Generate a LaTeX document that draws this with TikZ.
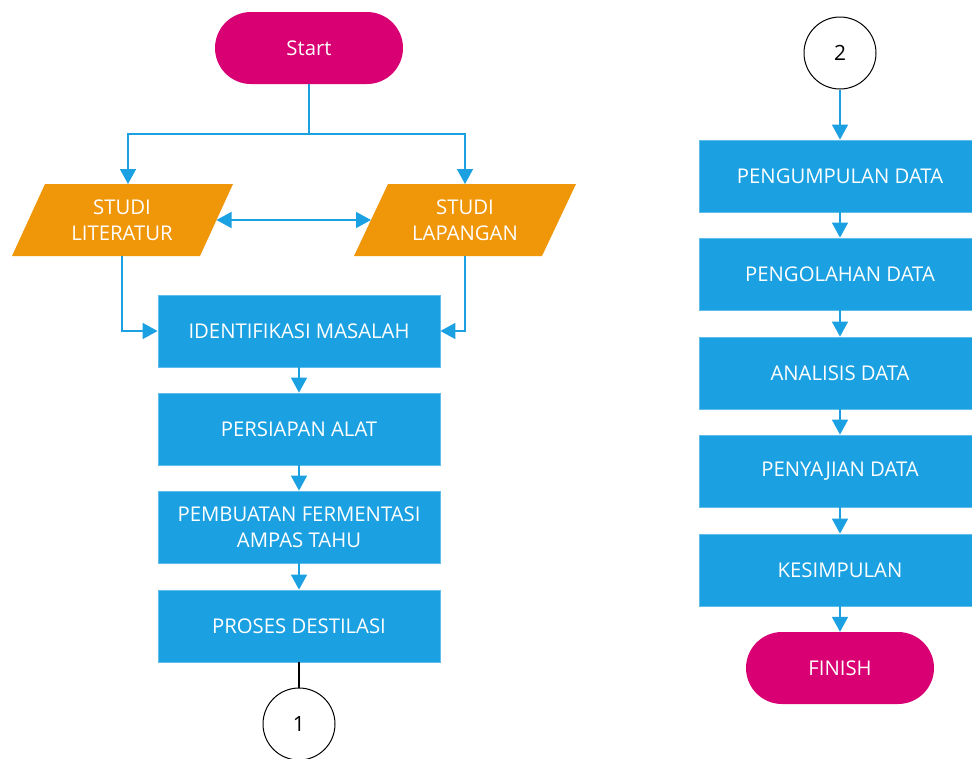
\documentclass[tikz,border=0pt]{standalone}
\usepackage{fontspec}
\setmainfont{Open Sans}
\usetikzlibrary{arrows.meta}
\definecolor{cyanM}{HTML}{1BA1E2}
\definecolor{magM}{HTML}{D80073}
\definecolor{orgM}{HTML}{F09609}
\tikzset{
  proc/.style={rectangle, fill=cyanM, draw=cyanM!70!white, line width=0.8pt, minimum width=282pt, minimum height=72pt, inner sep=0pt, text=white, font=\fontsize{20.3}{26.5}\selectfont, align=center},
  term/.style={rectangle, rounded corners=36pt, fill=magM, minimum width=188pt, minimum height=72pt, inner sep=0pt, text=white, font=\fontsize{20.3}{26.5}\selectfont},
  io/.style={text=white, font=\fontsize{20.3}{26.5}\selectfont, align=center, inner sep=0pt},
  conn/.style={circle, draw=black, line width=1pt, fill=white, minimum size=72pt, inner sep=0pt, font=\fontsize{21}{24}\selectfont},
  link/.style={draw=cyanM, line width=1.5pt},
  arr/.style={link, -{Triangle[width=16pt,length=15pt]}},
  arrb/.style={link, {Triangle[width=16pt,length=15pt]}-{Triangle[width=16pt,length=15pt]}},
}
\begin{document}
\begin{tikzpicture}[x=1pt,y=-1pt]
\clip (0,0) rectangle (972,758);
\fill[white] (0,0) rectangle (972,758);
% parallelograms
\fill[orgM] (12,256) -- (45,184) -- (233,184) -- (200,256) -- cycle;
\fill[orgM] (354,256) -- (388,184) -- (576,184) -- (542,256) -- cycle;
\node[io] (lit) at (122,220) {STUDI\\LITERATUR};
\node[io] (lap) at (465,220) {STUDI\\LAPANGAN};
\coordinate (litT) at (128,184);
\coordinate (lapT) at (465,184);
\coordinate (litR) at (216.5,220);
\coordinate (lapL) at (371,220);
\coordinate (litB) at (122,256);
\coordinate (lapB) at (465,256);
\coordinate (split) at (309,134);

\node[term] (start) at (309,48) {Start};
\node[proc] (iden) at (299,331) {IDENTIFIKASI MASALAH};
\node[proc] (pers) at (299,429) {PERSIAPAN ALAT};
\node[proc] (pemb) at (299,527) {PEMBUATAN FERMENTASI\\AMPAS TAHU};
\node[proc] (dest) at (299,626) {PROSES DESTILASI};
\node[conn] (c1) at (299,724) {1};

\node[conn] (c2) at (840,53) {2};
\node[proc] (kump) at (840,176) {PENGUMPULAN DATA};
\node[proc] (olah) at (840,274) {PENGOLAHAN DATA};
\node[proc] (anal) at (840,373) {ANALISIS DATA};
\node[proc] (saji) at (840,471) {PENYAJIAN DATA};
\node[proc] (simp) at (840,570) {KESIMPULAN};
\node[term] (fin) at (840,668) {FINISH};

\draw[link] (start.south) -- (split);
\draw[arr] (split) -| (litT);
\draw[arr] (split) -| (lapT);
\draw[arrb] (litR) -- (lapL);
\draw[arr] (litB) |- (iden.west);
\draw[arr] (lapB) |- (iden.east);
\draw[arr] (iden) -- (pers);
\draw[arr] (pers) -- (pemb);
\draw[arr] (pemb) -- (dest);
\draw[black, line width=1.5pt] (dest.south) -- (c1.north);

\draw[arr] (c2) -- (kump);
\draw[arr] (kump) -- (olah);
\draw[arr] (olah) -- (anal);
\draw[arr] (anal) -- (saji);
\draw[arr] (saji) -- (simp);
\draw[arr] (simp) -- (fin);
\end{tikzpicture}
\end{document}
